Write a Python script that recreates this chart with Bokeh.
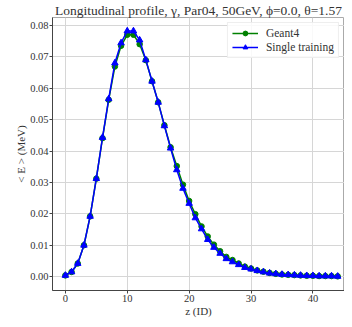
from bokeh.plotting import figure
from bokeh.embed import file_html
from bokeh.resources import INLINE
from bokeh.models import NumeralTickFormatter, FixedTicker, Range1d, Legend, LegendItem

z = list(range(45))
geant4 = [0.0004, 0.0015, 0.0042, 0.0100, 0.0192, 0.0312, 0.0441, 0.0563, 0.0669, 0.0735,
          0.0770, 0.0770, 0.0740, 0.0689, 0.0622, 0.0555, 0.0482, 0.0412, 0.0352, 0.0293,
          0.0241, 0.0199, 0.0160, 0.0128, 0.0102, 0.0081, 0.0063, 0.0053, 0.0042, 0.0032,
          0.0026, 0.0020, 0.0016, 0.0012, 0.0009, 0.0007, 0.0006, 0.0005, 0.0004, 0.0003,
          0.0003, 0.0002, 0.0002, 0.0002, 0.0001]
single = [0.0004, 0.0015, 0.0042, 0.0100, 0.0192, 0.0312, 0.0443, 0.0566, 0.0680, 0.0744,
          0.0782, 0.0782, 0.0753, 0.0690, 0.0622, 0.0555, 0.0480, 0.0409, 0.0340, 0.0281,
          0.0233, 0.0187, 0.0152, 0.0118, 0.0093, 0.0074, 0.0057, 0.0047, 0.0038, 0.0029,
          0.0024, 0.0019, 0.0015, 0.0011, 0.0009, 0.0007, 0.0006, 0.0005, 0.0004, 0.0003,
          0.0003, 0.0002, 0.0002, 0.0002, 0.0001]
x_ticks = [0, 10, 20, 30, 40]
y_ticks = [0.00, 0.01, 0.02, 0.03, 0.04, 0.05, 0.06, 0.07, 0.08]
x_label = "z (ID)"
y_label = "< E > (MeV)"

SERIF = "Liberation Serif"

p = figure(width=344, height=319, output_backend="svg", toolbar_location=None,
           x_range=Range1d(-2.08, 45.1), y_range=Range1d(-0.0044, 0.0825),
           min_border_left=52, min_border_right=0, min_border_top=15, min_border_bottom=26)

p.title.text = "Longitudinal profile, γ, Par04, 50GeV, ϕ=0.0, θ=1.57"
p.title.text_font = SERIF
p.title.text_font_size = "13.5px"
p.title.text_font_style = "normal"
p.title.align = "center"
p.title.text_color = "#333333"
p.title.offset = 0
p.title.standoff = 0

gl = p.line(z, geant4, line_color="#008000", line_width=1.5)
gm = p.scatter(z, geant4, marker="circle", size=5.5, fill_color="#008000", line_color="#008000")
bl = p.line(z, single, line_color="#0000ff", line_width=1.5)
bm = p.scatter(z, single, marker="triangle", size=6.5, fill_color="#0000ff", line_color="#0000ff")

legend = Legend(items=[LegendItem(label="Geant4", renderers=[gl, gm]),
                       LegendItem(label="Single training", renderers=[bl, bm])],
                location="top_right")
legend.label_text_font = SERIF
legend.label_text_font_size = "11.5px"
legend.label_text_color = "#333333"
legend.border_line_color = "#dddddd"
legend.background_fill_alpha = 0.85
legend.glyph_width = 26
legend.glyph_height = 12
legend.label_height = 12
legend.spacing = 2
legend.padding = 4
legend.margin = 5
legend.label_standoff = 8
p.add_layout(legend)

for ax in (p.xaxis[0], p.yaxis[0]):
    ax.major_label_text_font = SERIF
    ax.major_label_text_font_size = "10.5px"
    ax.major_label_text_color = "#333333"
    ax.axis_label_text_font = SERIF
    ax.axis_label_text_font_size = "11px"
    ax.axis_label_text_font_style = "normal"
    ax.axis_label_text_color = "#333333"
    ax.minor_tick_line_color = None
    ax.major_tick_out = 3
    ax.major_tick_in = 0
    ax.axis_line_color = "#444444"
    ax.major_tick_line_color = "#444444"
    ax.axis_label_standoff = 0
    ax.major_label_standoff = 1

p.xaxis.ticker = FixedTicker(ticks=x_ticks)
p.yaxis.ticker = FixedTicker(ticks=y_ticks)
p.yaxis.formatter = NumeralTickFormatter(format="0.00")
p.xaxis.axis_label = x_label
p.yaxis.axis_label = y_label

p.grid.grid_line_color = "#d6d6d6"
p.grid.grid_line_width = 1
p.outline_line_color = "#aaaaaa"
p.background_fill_color = "white"

open("out.html", "w").write(file_html(p, INLINE))
